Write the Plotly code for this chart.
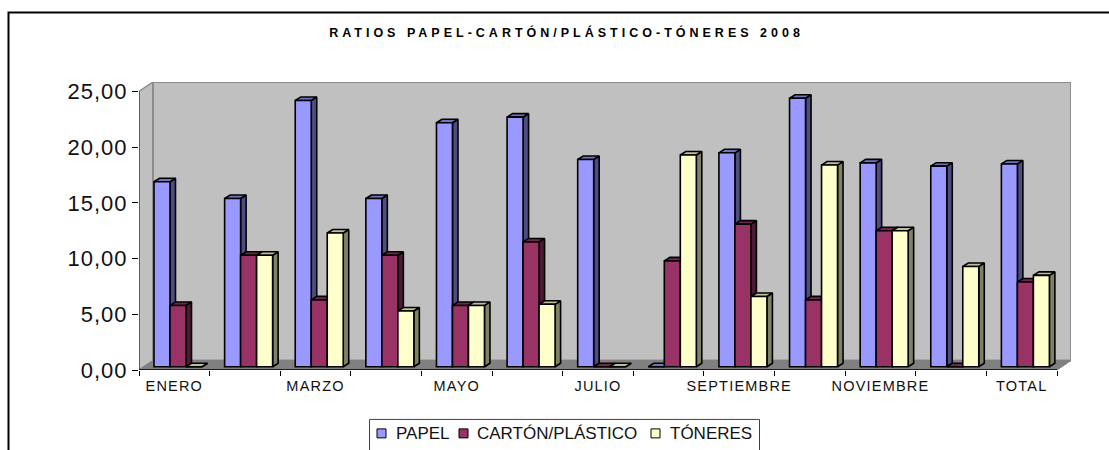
import plotly.graph_objects as go

MONTHS = ["ENERO", "FEBRERO", "MARZO", "ABRIL", "MAYO", "JUNIO", "JULIO", "AGOSTO",
          "SEPTIEMBRE", "OCTUBRE", "NOVIEMBRE", "DICIEMBRE", "TOTAL"]
SHOWN = ["ENERO", "MARZO", "MAYO", "JULIO", "SEPTIEMBRE", "NOVIEMBRE", "TOTAL"]
PAPEL = [16.6, 15.1, 23.9, 15.1, 21.9, 22.4, 18.6, 0, 19.2, 24.1, 18.3, 18.0, 18.2]
CARTON = [5.5, 10.0, 6.0, 10.0, 5.5, 11.2, 0, 9.5, 12.8, 6.0, 12.2, 0, 7.6]
TONER = [0, 10.0, 12.0, 5.0, 5.5, 5.6, 0, 19.0, 6.3, 18.1, 12.2, 9.0, 8.2]
Y_TICKS = [0, 5, 10, 15, 20, 25]
SERIES = [("PAPEL", PAPEL, "#9999FF", "#4D4D80", "#7373BF"),
          ("CARTÓN/PLÁSTICO", CARTON, "#993366", "#4D1A33", "#732649"),
          ("TÓNERES", TONER, "#FFFFCC", "#808066", "#BFBF99")]

W, H = 1109, 450
L, R, T, B = 139, 1057, 91, 370      # front plane of the axes, in px
DEPTH_X, DEPTH_Y = 14, 9.5           # wall depth, px
PX_X = (R - L) / len(MONTHS)
PX_Y = (B - T) / 25
WALL_DX, WALL_DY = DEPTH_X / PX_X, DEPTH_Y / PX_Y
BAR_DX, BAR_DY = 5.5 / PX_X, 3.5 / PX_Y    # depth of a bar
BAR_W = 16 / PX_X
GROUP_START = 15 / PX_X
BASE = 3.3 / PX_Y
n = len(MONTHS)

fig = go.Figure()


def poly(xs, ys, fill, line="black", width=1.6):
    fig.add_trace(go.Scatter(x=xs + xs[:1], y=ys + ys[:1], mode="lines", fill="toself",
                             fillcolor=fill, line=dict(color=line, width=width),
                             hoverinfo="skip", showlegend=False, xaxis="x", yaxis="y"))


def edge(xs, ys, color="black", width=1):
    fig.add_trace(go.Scatter(x=xs, y=ys, mode="lines", line=dict(color=color, width=width),
                             hoverinfo="skip", showlegend=False, xaxis="x", yaxis="y"))


# walls and floor
poly([0, WALL_DX, WALL_DX, 0], [0, WALL_DY, 25 + WALL_DY, 25], "#C0C0C0", "#8C8C8C", 1.5)
poly([WALL_DX, n + WALL_DX, n + WALL_DX, WALL_DX], [WALL_DY, WALL_DY, 25 + WALL_DY, 25 + WALL_DY],
     "#C0C0C0", "#8C8C8C", 2)
poly([0, n, n + WALL_DX, WALL_DX], [0, 0, WALL_DY, WALL_DY], "#808080", "#808080", 1)
edge([0, 0], [0, 25], "#222222", 1)
edge([0, n], [0, 0], "black", 1.4)

# side and top faces, left to right
for i in range(n):
    for j, (_, vals, _, side, top) in enumerate(SERIES):
        x0 = i + GROUP_START + j * BAR_W
        x1 = x0 + BAR_W
        y1 = BASE + vals[i]
        poly([x1, x1 + BAR_DX, x1 + BAR_DX, x1], [BASE, BASE + BAR_DY, y1 + BAR_DY, y1], side)
        poly([x0, x1, x1 + BAR_DX, x0 + BAR_DX], [y1, y1, y1 + BAR_DY, y1 + BAR_DY], top)

# front faces, on an overlaid axis pair so they sit above the faces behind
for j, (name, vals, face, _, _) in enumerate(SERIES):
    fig.add_trace(go.Bar(x=[i + GROUP_START + (j + .5) * BAR_W for i in range(n)], y=vals,
                         base=BASE, width=BAR_W, name=name, showlegend=False,
                         marker=dict(color=face, line=dict(color="black", width=1.6)),
                         xaxis="x2", yaxis="y2"))

X_RANGE = [0, n + WALL_DX]
Y_RANGE = [0, 25 + WALL_DY]
RIGHT, TOP = R + DEPTH_X, T - DEPTH_Y
px = lambda v: (v - L) / (RIGHT - L)
py = lambda v: (B - v) / (B - TOP)

fig.update_layout(
    width=W, height=H, autosize=False,
    margin=dict(l=L, r=W - RIGHT, t=TOP, b=H - B, pad=0),
    paper_bgcolor="white", plot_bgcolor="rgba(0,0,0,0)",
    barmode="overlay", showlegend=False,
    title=dict(text="RATIOS PAPEL-CARTÓN/PLÁSTICO-TÓNERES 2008", x=566.5 / W, xanchor="center",
               y=1 - 33 / H, yanchor="middle",
               font=dict(family="Liberation Sans", size=12.5, color="black", weight="bold")),
    xaxis=dict(range=X_RANGE, showgrid=False, zeroline=False, showline=False,
               tickmode="array", tickvals=[MONTHS.index(m) + .5 for m in SHOWN], ticktext=SHOWN,
               ticks="", tickfont=dict(family="Liberation Sans", size=14.5, color="#111"),
               tickangle=0, fixedrange=True, ticklabelstandoff=5,
               minor=dict(tick0=0, dtick=1, ticks="outside", ticklen=5, tickcolor="black",
                          tickwidth=1, showgrid=False)),
    yaxis=dict(range=Y_RANGE, showgrid=False, zeroline=False, showline=False,
               tickmode="array", tickvals=Y_TICKS, ticktext=[f"{v:.2f}".replace(".", ",") for v in Y_TICKS],
               ticks="outside", ticklen=6, tickcolor="black", tickwidth=1,
               tickfont=dict(family="Liberation Sans", size=22, color="#111"), fixedrange=True),
    xaxis2=dict(range=X_RANGE, overlaying="x", visible=False, fixedrange=True),
    yaxis2=dict(range=Y_RANGE, overlaying="y", visible=False, fixedrange=True),
    # outer frame: only left and top edges are inside the picture
    shapes=[dict(type="path", xref="paper", yref="paper", line=dict(color="black", width=2),
                 path=f"M{px(8.5)},{py(460)} L{px(8.5)},{py(12)} L{px(1120)},{py(12)}")],
)

LEG_ITEMS = [("PAPEL", 377, 394), ("CARTÓN/PLÁSTICO", 459, 475), ("TÓNERES", 651, 668)]
fig.add_shape(type="rect", xref="paper", yref="paper", x0=px(369.5), x1=px(759.5), y0=py(470), y1=py(419.5),
              line=dict(color="#404040", width=1), fillcolor="white")
for (name, mx, tx), (_, _, face, _, _) in zip(LEG_ITEMS, SERIES):
    fig.add_shape(type="rect", xref="paper", yref="paper", x0=px(mx), x1=px(mx + 9), y0=py(438), y1=py(429),
                  line=dict(color="black", width=1), fillcolor=face)
    fig.add_annotation(text=name, xref="paper", yref="paper", x=px(tx), y=py(433.5), xanchor="left", yanchor="middle",
                       showarrow=False, font=dict(family="Liberation Sans", size=17, color="#111"))

fig.write_html("out.html", config={"displayModeBar": False},
               post_script="document.body.style.margin='0';"
                           "document.querySelector('.gtitle').style.letterSpacing='4px';"
                           "document.querySelectorAll('.xtick text').forEach(t=>t.style.letterSpacing='1.2px');"
                           "document.querySelectorAll('.ytick text').forEach(t=>t.style.letterSpacing='1px');")
